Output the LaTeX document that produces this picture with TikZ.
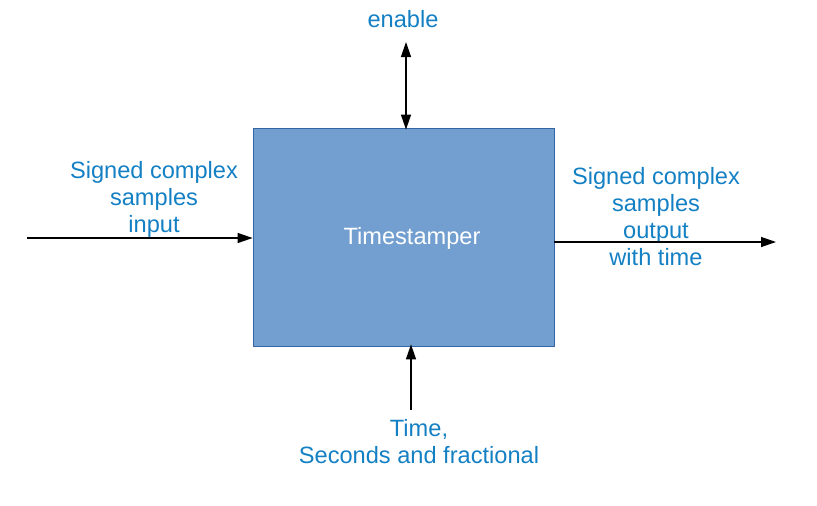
\documentclass[tikz,border=0pt]{standalone}
\usepackage{fontspec}
\setmainfont{Liberation Sans}
\usetikzlibrary{arrows.meta}
\definecolor{lbl}{HTML}{1480C4}
\definecolor{boxfill}{HTML}{729FCF}
\definecolor{boxline}{HTML}{3465A4}
\begin{document}
\begin{tikzpicture}[x=1pt,y=-1pt,
  lbltext/.style={text=lbl,font=\fontsize{23.6}{27}\selectfont,align=center,inner sep=0pt},
  blk/.style={draw=boxline,line width=0.8pt,fill=boxfill,minimum width=301pt,minimum height=218pt,inner sep=0pt},
  blktext/.style={text=white,font=\fontsize{23.6}{27}\selectfont,inner sep=0pt},
  conn/.style={draw=black,line width=1.3pt,-{Triangle[length=15pt,width=10pt]}}
]
\useasboundingbox (0,0) rectangle (817,506);
\node[blk] (box) at (403.5,237) {};
\node[blktext] (boxlbl) at (412,238) {Timestamper};
\node[lbltext] (inlbl) at (154,199) {Signed complex\\samples\\input};
\node[lbltext] (outlbl) at (656,217) {Signed complex\\samples\\output\\with time};
\node[lbltext] (enlbl) at (403,19) {enable};
\node[lbltext] (timelbl) at (419,442) {Time,\\Seconds and fractional};
\coordinate (inend) at (27,238);
\coordinate (outend) at (776,242);
\coordinate (entop) at (406,42);
\coordinate (timebot) at (411,410);
\draw[conn] (inend) -- (box.west |- inend);
\draw[conn] (box.east |- outend) -- (outend);
\draw[conn,{Triangle[length=15pt,width=10pt]}-{Triangle[length=15pt,width=10pt]}] (entop) -- ([yshift=-2pt]box.north -| entop);
\draw[conn] (timebot) -- ([yshift=2pt]box.south -| timebot);
\end{tikzpicture}
\end{document}
